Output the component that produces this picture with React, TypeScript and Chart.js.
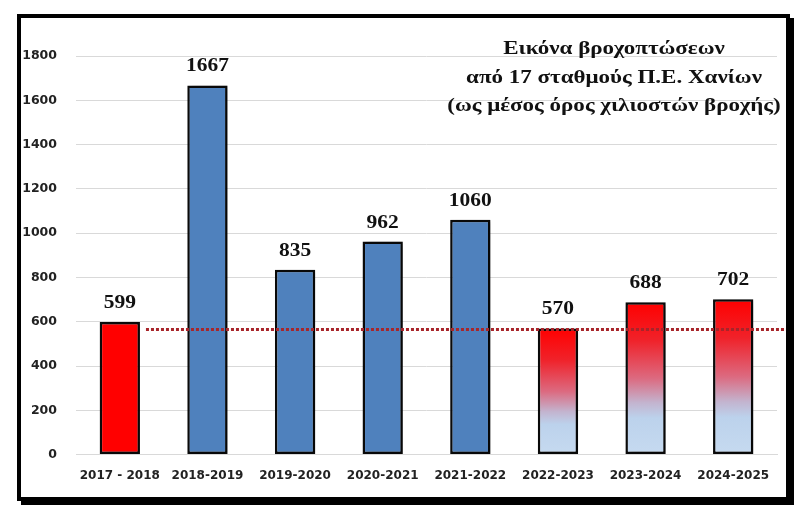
import { useEffect, useRef } from 'react';
import { Chart, registerables } from 'chart.js';

Chart.register(...registerables);

const seasons = ['2017 - 2018', '2018-2019', '2019-2020', '2020-2021', '2021-2022', '2022-2023', '2023-2024', '2024-2025'];
const rainfall = [599, 1667, 835, 962, 1060, 570, 688, 702];
// fill style per bar: 'red', 'blue' or 'fade' (red to light blue)
const barStyles = ['red', 'blue', 'blue', 'blue', 'blue', 'fade', 'fade', 'fade'];
const referenceLevel = [565];
const titleLines = ['Εικόνα βροχοπτώσεων', 'από 17 σταθμούς Π.Ε. Χανίων', '(ως μέσος όρος χιλιοστών βροχής)'];

const BLUE = '#4F81BD';
const RED = '#FF0000';
const STRETCH = 1.13; // the source picture is a little wider than tall

// bar shadow to the right, like the office chart
const shadowPlugin = {
  id: 'barShadow',
  beforeDatasetDraw(chart: any) {
    const ctx = chart.ctx;
    ctx.save();
    ctx.shadowColor = 'rgba(0,0,0,0.35)';
    ctx.shadowOffsetX = 4;
    ctx.shadowOffsetY = 1;
    ctx.shadowBlur = 5;
  },
  afterDatasetDraw(chart: any) {
    chart.ctx.restore();
  }
};

const stretchedText = (ctx: any, text: string, x: number, y: number, sx = STRETCH) => {
  ctx.save();
  ctx.translate(x, y);
  ctx.scale(sx, 1);
  ctx.fillText(text, 0, 0);
  ctx.restore();
};

// dotted reference line + value labels + title block
const overlayPlugin = {
  id: 'overlay',
  afterDatasetsDraw(chart: any) {
    const ctx = chart.ctx;
    const meta = chart.getDatasetMeta(0);
    const yScale = chart.scales.y;

    // reference line, starts just after the first bar
    const first = meta.data[0];
    const y = yScale.getPixelForValue(referenceLevel[0]);
    ctx.save();
    ctx.strokeStyle = '#A8252A';
    ctx.lineWidth = 3;
    ctx.setLineDash([3, 2]);
    ctx.beginPath();
    ctx.moveTo(first.x + first.width / 2 + 6, y);
    ctx.lineTo(chart.width, y);
    ctx.stroke();
    ctx.restore();

    // values above bars
    ctx.save();
    ctx.font = 'bold 19px "Liberation Serif", serif';
    ctx.fillStyle = '#111';
    ctx.textAlign = 'center';
    ctx.textBaseline = 'alphabetic';
    meta.data.forEach((bar: any, i: number) => {
      stretchedText(ctx, String(rainfall[i]), bar.x, bar.y - 14);
    });
    ctx.restore();

    // title
    ctx.save();
    ctx.font = 'bold 19.5px "Liberation Serif", serif';
    ctx.fillStyle = '#111';
    ctx.textAlign = 'center';
    ctx.textBaseline = 'middle';
    const cx = chart.chartArea.right - 163;
    titleLines.forEach((line, i) => {
      stretchedText(ctx, line, cx, 31 + i * 28.5, 1.18);
    });
    ctx.restore();
  }
};

export default function App() {
  const canvasRef = useRef<HTMLCanvasElement>(null);
  const chartRef = useRef<Chart | null>(null);

  useEffect(() => {
    if (!canvasRef.current) return;
    if (chartRef.current) chartRef.current.destroy();

    const fillFor = (context: any) => {
      const i = context.dataIndex;
      const style = barStyles[i];
      if (style === 'red') return RED;
      if (style === 'blue') return BLUE;
      const chart = context.chart;
      const yScale = chart.scales?.y;
      if (!yScale) return RED;
      const top = yScale.getPixelForValue(rainfall[i]);
      const base = yScale.getPixelForValue(0);
      const g = chart.ctx.createLinearGradient(0, top, 0, base);
      g.addColorStop(0, '#FF0000');
      g.addColorStop(0.25, '#F0222A');
      g.addColorStop(0.5, '#DC6A80');
      g.addColorStop(0.66, '#C3B4CF');
      g.addColorStop(0.76, '#BCD2EC');
      g.addColorStop(1, '#C6DAF0');
      return g;
    };

    chartRef.current = new Chart(canvasRef.current, {
      type: 'bar',
      data: {
        labels: seasons,
        datasets: [
          {
            data: rainfall,
            backgroundColor: fillFor,
            borderColor: '#0a0a0a',
            borderWidth: 2.5,
            borderSkipped: false,
            barPercentage: 0.46,
            categoryPercentage: 1
          }
        ]
      },
      options: {
        responsive: true,
        maintainAspectRatio: false,
        animation: false,
        layout: { padding: { left: 1, right: 9, top: 38, bottom: 8 } },
        plugins: {
          legend: { display: false },
          tooltip: { enabled: false },
          title: { display: false }
        },
        scales: {
          x: {
            grid: { display: false },
            border: { display: true, color: '#D9D9D9' },
            ticks: {
              color: '#222',
              font: { family: '"DejaVu Sans", sans-serif', size: 12, weight: 'bold' },
              padding: 6,
              maxRotation: 0,
              autoSkip: false
            }
          },
          y: {
            min: 0,
            max: 1800,
            grid: { color: '#D9D9D9', drawTicks: false },
            border: { display: false },
            afterFit: (scale: any) => {
              scale.width = 54;
            },
            ticks: {
              stepSize: 200,
              color: '#222',
              font: { family: '"DejaVu Sans", sans-serif', size: 12.5, weight: 'bold' },
              padding: 19,
              callback: (value: any) => String(value)
            }
          }
        }
      },
      plugins: [shadowPlugin, overlayPlugin]
    } as any);

    return () => {
      if (chartRef.current) {
        chartRef.current.destroy();
        chartRef.current = null;
      }
    };
  }, []);

  return (
    <div
      style={{
        position: 'absolute',
        left: 17,
        top: 14,
        width: 773,
        height: 487,
        boxSizing: 'border-box',
        border: '4px solid #000',
        boxShadow: '4px 4px 0 #000',
        background: '#fff'
      }}
    >
      <div style={{ position: 'relative', width: 765, height: 479 }}>
        <canvas ref={canvasRef} />
      </div>
    </div>
  );
}
